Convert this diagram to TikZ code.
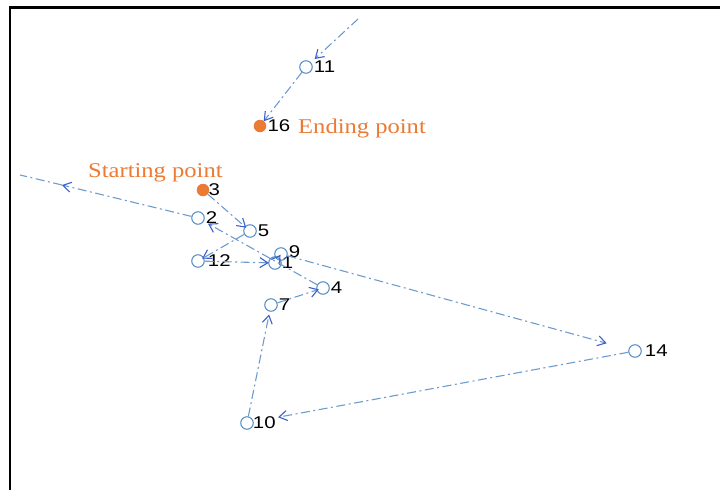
\documentclass[tikz,border=0pt]{standalone}
\usepackage{fontspec}
\setmainfont{Liberation Serif}
\setsansfont{Liberation Sans}
\usepackage{xcolor}
\usepackage{tikz}
\usetikzlibrary{arrows.meta,calc,positioning}

\definecolor{pathblue}{RGB}{110,155,205}
\definecolor{tipblue}{RGB}{60,95,205}
\definecolor{ringblue}{RGB}{75,135,195}
\definecolor{markorange}{RGB}{234,122,52}

\newcommand{\widen}[2]{\scalebox{#1}[1]{#2}}

\begin{document}
\begin{tikzpicture}[
  x=1pt,
  y=-1pt,
  >={Straight Barb[length=8pt,width=10pt,color=tipblue,line width=1.1pt]},
  every label/.style={
    inner sep=0pt,
    font=\sffamily\fontsize{17}{17}\selectfont
  },
  label distance=1pt,
  site/.style={
    draw=ringblue,
    circle,
    minimum size=12.5pt,
    inner sep=0pt,
    line width=1pt
  },
  depot/.style={
    fill=markorange,
    circle,
    minimum size=12.5pt,
    inner sep=0pt
  },
  leg/.style={
    draw=pathblue,
    line width=1.1pt,
    dash pattern=on 9pt off 3.5pt on 2pt off 3.5pt
  },
  note/.style={
    text=markorange,
    inner sep=0pt,
    anchor=base west,
    font=\fontsize{21}{22}\selectfont
  }
]
\useasboundingbox (0,0) rectangle (720,490);
\draw[line width=2.5pt] (720,7.5) -- (10,7.5) -- (10,490);

% stops
\node[site]  (n11) at (306,67)  [label={right:\widen{1.2}{11}}] {};
\node[depot] (n16) at (260,126) [label={right:\widen{1.2}{16}}] {};
\node[depot] (n3)  at (203,190) [label={[label distance=-1pt]right:\widen{1.2}{3}}] {};
\node[site]  (n2)  at (198,218) [label={right:\widen{1.2}{2}}] {};
\node[site]  (n5)  at (250,231) [label={right:\widen{1.2}{5}}] {};
\node[site]  (n12) at (198,261) [label={[label distance=3pt]right:\widen{1.2}{12}}] {};
\node[site]  (n1)  at (275,263) [label={[label distance=0pt]right:\widen{1.2}{1}}] {};
\node[site]  (n9)  at (281,254) [label={[label distance=1pt,yshift=2pt]right:\widen{1.2}{9}}] {};
\node[site]  (n4)  at (323,288) [label={right:\widen{1.2}{4}}] {};
\node[site]  (n7)  at (271,305) [label={right:\widen{1.2}{7}}] {};
\node[site]  (n10) at (247,423) [label={[label distance=-1pt]right:\widen{1.2}{10}}] {};
\node[site]  (n14) at (635,351) [label={[label distance=3pt]right:\widen{1.2}{14}}] {};

\coordinate (topin) at (358,19);
\coordinate (lefttip) at (62,185);
\coordinate (leftend) at (20,175);

\node[note] (endnote) at (298,133) {\widen{1.17}{Ending point}};
\node[note] (startnote) at (88,177) {\widen{1.17}{Starting point}};

% route
\foreach \a/\b in {n3/n5, n5/n12, n12/n1, n1/n9, n9/n14, n14/n10, n10/n7, n7/n4, n4/n2, n11/n16}
  \draw[leg,->] (\a) -- ($(\a.center)!0.92!(\b.center)$);
\draw[leg,->] (n2) -- (lefttip);
\draw[leg] (lefttip) -- (leftend);
\draw[leg,->,shorten >=5pt] (topin) -- (n11);
\end{tikzpicture}
\end{document}
